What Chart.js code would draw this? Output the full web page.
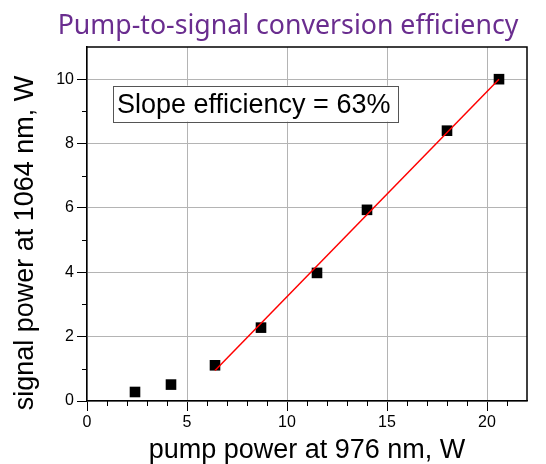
<!DOCTYPE html>
<html>
<head>
<meta charset="utf-8">
<script src="https://cdn.jsdelivr.net/npm/chart.js@4"></script>
<style>
  html, body { margin: 0; padding: 0; background: #fff; }
  #wrap { width: 546px; height: 464px; }
</style>
</head>
<body>
<div id="wrap"><canvas id="chart" width="546" height="464"></canvas></div>
<script>
// ===== Data =====
const pumpW   = [2.4, 4.2, 6.4, 8.7, 11.5, 14.0, 18.0, 20.6];
const signalW = [0.28, 0.51, 1.11, 2.28, 3.98, 5.94, 8.40, 10.0];

// linear fit shown as red line
const fitPump   = [6.4, 20.6];
const fitSignal = [0.95, 10.0];

const xTicks = [0, 5, 10, 15, 20];
const yTicks = [0, 2, 4, 6, 8, 10];

const titleText  = 'Pump-to-signal conversion efficiency';
const noteText   = 'Slope efficiency = 63%';
const yLabelText = 'signal power at 1064 nm, W';

const toPoints = (xs, ys) => xs.map((x, i) => ({ x: x, y: ys[i] }));

// ===== Extras: title, y label, frame, minor ticks, note box =====
const extras = {
  id: 'extras',
  afterDraw(chart) {
    const ctx = chart.ctx;
    const a = chart.chartArea;
    const sx = chart.scales.x, sy = chart.scales.y;
    ctx.save();

    // title
    ctx.fillStyle = '#6a2d8f';
    ctx.font = '26.7px "Noto Sans"';
    ctx.textAlign = 'center';
    ctx.textBaseline = 'alphabetic';
    ctx.fillText(titleText, 288, 34);

    // y axis label (sits a bit lower than the plot centre)
    ctx.save();
    ctx.translate(33, 243);
    ctx.rotate(-Math.PI / 2);
    ctx.fillStyle = '#000';
    ctx.font = '27px "Liberation Sans"';
    ctx.fillText(yLabelText, 0, 0);
    ctx.restore();

    // top / right frame
    ctx.strokeStyle = '#000';
    ctx.lineWidth = 1.5;
    ctx.beginPath();
    ctx.moveTo(a.left, a.top);
    ctx.lineTo(a.right, a.top);
    ctx.lineTo(a.right, a.bottom);
    ctx.stroke();

    // minor ticks
    ctx.lineWidth = 1;
    ctx.beginPath();
    for (let v = 1; v < 22; v++) {
      if (v % 5 === 0) continue;
      const px = Math.round(sx.getPixelForValue(v)) + 0.5;
      ctx.moveTo(px, a.bottom);
      ctx.lineTo(px, a.bottom + 5);
    }
    for (let v = 1; v < 11; v += 2) {
      const py = Math.round(sy.getPixelForValue(v)) + 0.5;
      ctx.moveTo(a.left, py);
      ctx.lineTo(a.left - 5, py);
    }
    ctx.stroke();

    // note box
    const bx = sx.getPixelForValue(1.3), by = sy.getPixelForValue(9.8);
    const bw = 285, bh = 36;
    ctx.fillStyle = '#fff';
    ctx.fillRect(bx, by, bw, bh);
    ctx.strokeStyle = '#555';
    ctx.strokeRect(Math.round(bx) + 0.5, Math.round(by) + 0.5, bw, bh);
    ctx.fillStyle = '#000';
    ctx.font = '27px "Liberation Sans"';
    ctx.textAlign = 'left';
    ctx.fillText(noteText, bx + 4, by + 27);

    ctx.restore();
  }
};

new Chart(document.getElementById('chart'), {
  type: 'scatter',
  data: {
    datasets: [
      {
        label: 'measured',
        data: toPoints(pumpW, signalW),
        pointStyle: 'rect',
        pointRadius: 7.5,
        pointHoverRadius: 7.5,
        backgroundColor: '#000',
        borderWidth: 0,
        order: 1
      },
      {
        label: 'fit',
        data: toPoints(fitPump, fitSignal),
        showLine: true,
        borderColor: '#ff0000',
        borderWidth: 1.5,
        pointRadius: 0,
        order: 0
      }
    ]
  },
  options: {
    responsive: false,
    animation: false,
    layout: { padding: { top: 47, right: 19, left: 0, bottom: 0 } },
    plugins: {
      legend: { display: false },
      tooltip: { enabled: false }
    },
    scales: {
      x: {
        type: 'linear',
        min: 0, max: 22,
        afterFit: s => { s.height = 63; },
        afterBuildTicks: s => { s.ticks = xTicks.map(v => ({ value: v })); },
        ticks: { color: '#000', font: { family: 'Liberation Sans', size: 16 }, padding: 2 },
        grid: { color: '#b4b4b4', lineWidth: 1, tickLength: 10, tickColor: '#000' },
        border: { color: '#000', width: 1.5 },
        title: {
          display: true,
          text: 'pump power at 976 nm, W',
          color: '#000',
          font: { family: 'Liberation Sans', size: 27 },
          padding: { top: 0, bottom: -3 }
        }
      },
      y: {
        type: 'linear',
        min: 0, max: 11,
        afterFit: s => { s.width = 87; },
        afterBuildTicks: s => { s.ticks = yTicks.map(v => ({ value: v })); },
        ticks: { color: '#000', font: { family: 'Liberation Sans', size: 16 }, padding: 3 },
        grid: { color: '#b4b4b4', lineWidth: 1, tickLength: 10, tickColor: '#000' },
        border: { color: '#000', width: 1.5 }
      }
    }
  },
  plugins: [extras]
});
</script>
</body>
</html>
